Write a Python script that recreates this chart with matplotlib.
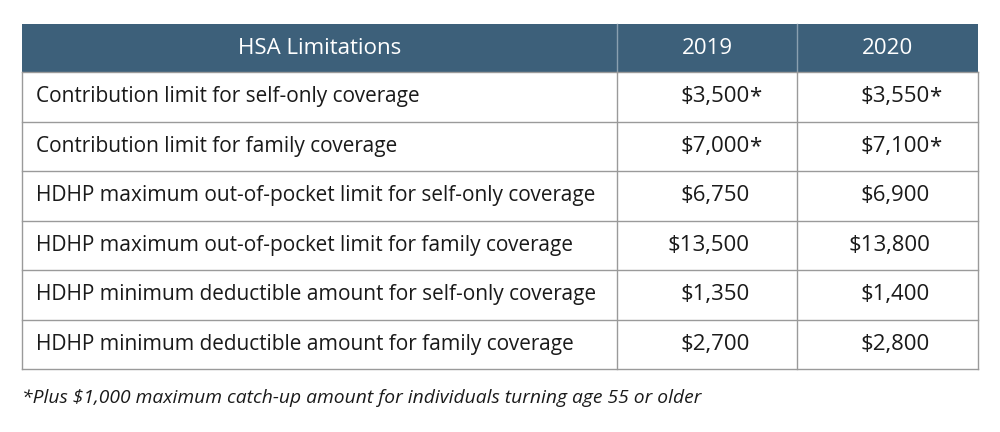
import matplotlib
matplotlib.use("Agg")
import matplotlib.pyplot as plt
from matplotlib.patches import Rectangle

header = ["HSA Limitations", "2019", "2020"]
labels = ["Contribution limit for self-only coverage",
          "Contribution limit for family coverage",
          "HDHP maximum out-of-pocket limit for self-only coverage",
          "HDHP maximum out-of-pocket limit for family coverage",
          "HDHP minimum deductible amount for self-only coverage",
          "HDHP minimum deductible amount for family coverage"]
v2019 = ["$3,500", "$7,000", "$6,750", "$13,500", "$1,350", "$2,700"]
v2020 = ["$3,550", "$7,100", "$6,900", "$13,800", "$1,400", "$2,800"]
star = [True, True, False, False, False, False]
footnote = "*Plus $1,000 maximum catch-up amount for individuals turning age 55 or older"

fig = plt.figure(figsize=(10, 4.32), dpi=100)
ax = fig.add_axes([0, 0, 1, 1])
ax.set_xlim(0, 1000); ax.set_ylim(432, 0); ax.axis("off")
font = "Open Sans"
x0, x1, x2, x3 = 22, 617, 797, 978
ytop, yh = 24, 72
rh = (369 - 72) / 6
tc = "#1a1a1a"
ax.add_patch(Rectangle((x0, ytop), x3 - x0, yh - ytop, color="#3d607a", lw=0))
for xc, h in (((x0 + x1) / 2, header[0]), ((x1 + x2) / 2, header[1]), ((x2 + x3) / 2, header[2])):
    ax.text(xc, (ytop + yh) / 2, h, color="white", ha="center", va="center", fontsize=16, family=font)
ax.plot([x1, x1], [ytop, yh], color="#8aa0b0", lw=1)
ax.plot([x2, x2], [ytop, yh], color="#8aa0b0", lw=1)
lc = "#9a9a9a"
ybot = yh + 6 * rh
for i in range(7):
    y = yh + i * rh
    ax.plot([x0, x3], [y, y], color=lc, lw=1)
for x in (x0, x1, x2, x3):
    ax.plot([x, x], [yh, ybot], color=lc, lw=1)
for i, lab in enumerate(labels):
    yc = yh + (i + 0.5) * rh
    ax.text(36, yc, lab, ha="left", va="center", fontsize=15, family=font, color=tc)
    ax.text(750, yc, v2019[i], ha="right", va="center", fontsize=16, family=font, color=tc)
    ax.text(930, yc, v2020[i], ha="right", va="center", fontsize=16, family=font, color=tc)
    if star[i]:
        ax.text(749, yc, "*", ha="left", va="center", fontsize=16, family=font, color=tc)
        ax.text(929, yc, "*", ha="left", va="center", fontsize=16, family=font, color=tc)
ax.text(22, 398, footnote, ha="left", va="center", fontsize=13.9, family=font, style="italic", color=tc)
fig.savefig("out.png", dpi=100, facecolor="white")
